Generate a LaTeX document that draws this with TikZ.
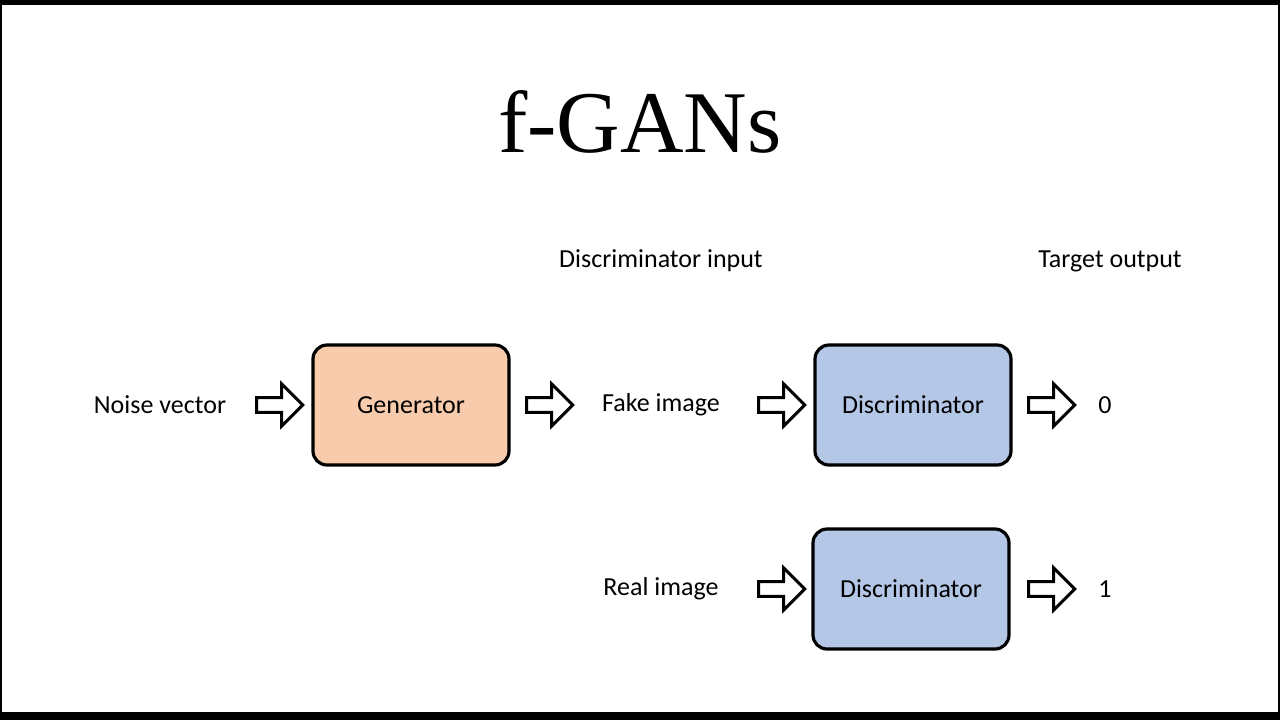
\documentclass[tikz,border=0pt]{standalone}
\usepackage{fontspec}
\setmainfont{Carlito}
\newfontfamily\titlefont{Liberation Serif}
\usetikzlibrary{shapes.arrows}
\definecolor{peach}{HTML}{F8CBAD}
\definecolor{paleblue}{HTML}{B4C7E7}
\tikzset{
    block/.style={draw, line width=1.6pt, rounded corners=7pt, minimum width=98pt, minimum height=60pt, font=\fontsize{13}{15}\selectfont},
    label/.style={font=\fontsize{13}{15}\selectfont},
    hollow/.style={single arrow, draw, line width=1.5pt, fill=white, minimum height=23pt, minimum width=21pt, single arrow head extend=5pt, inner sep=2pt}
}
\begin{document}
\begin{tikzpicture}[x=0.5pt, y=-0.5pt]
                \fill[black] (0, 0) rectangle (1280, 720);
                \fill[white] (2, 5) rectangle (1278, 712);
                \useasboundingbox (0, 0) rectangle (1280, 720);

                \node[font=\titlefont\fontsize{44}{48}\selectfont] (title) at (640, 122) {f-GANs};
                \node[label] (dinput) at (661, 261) {Discriminator input};
                \node[label] (target) at (1110, 261) {Target output};

                \node[label] (noise) at (160, 405) {Noise vector};
                \node[block, fill=peach] (gen) at (411, 405) {Generator};
                \node[label] (fake) at (661, 405) {Fake image};
                \node[block, fill=paleblue] (disc1) at (913, 405) {Discriminator};
                \node[label] (zero) at (1105, 405) {0};

                \node[label] (real) at (661, 589) {Real image};
                \node[block, fill=paleblue] (disc2) at (911, 589) {Discriminator};
                \node[label] (one) at (1105, 589) {1};

                \foreach \n/\x/\y in {a1/276/405, a2/546/405, a3/778/405, a4/1048/405, a5/778/589, a6/1048/589} {
                    \node[hollow] (\n) at (\x, \y) {};
                }
            \end{tikzpicture}
\end{document}
